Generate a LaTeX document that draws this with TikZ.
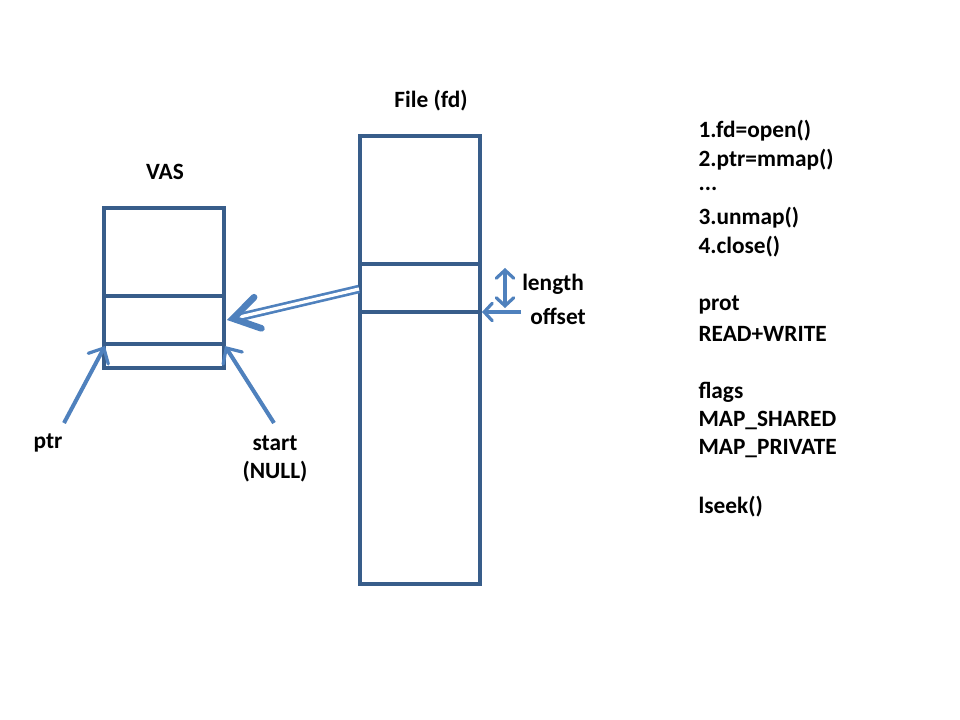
\documentclass[tikz,border=0pt]{standalone}
\usepackage{fontspec}
\setmainfont{Carlito}
\usetikzlibrary{arrows.meta,positioning}
\definecolor{boxblue}{RGB}{56,93,138}
\definecolor{arrblue}{RGB}{79,129,189}

\begin{document}
\begin{tikzpicture}[x=0.75pt,y=-0.75pt,
        box/.style={draw=boxblue,line width=2.3pt},
        lbl/.style={font=\bfseries\fontsize{17.5pt}{20pt}\selectfont,inner sep=0pt},
        note/.style={lbl,anchor=west},
        ptrarrow/.style={draw=arrblue,line width=3pt,-{Straight Barb[length=9pt,width=17pt,line width=2.4pt,line cap=round]}},
        maparrow/.style={draw=arrblue,double=white,double distance=2.4pt,line width=2pt,
          -{Straight Barb[length=19pt,width=24pt,line width=5pt,line cap=round]}},
        thick]
      \useasboundingbox[fill=white] (0,0) rectangle (960,720);
      % VAS
      \draw[box] (104,208) rectangle (224,368);
      \draw[box] (104,296) -- (224,296);
      \draw[box] (104,344) -- (224,344);
      \node [lbl] (vas) at (165,172) {VAS};
      % file
      \draw[box] (360,136) rectangle (480,584);
      \draw[box] (360,264) -- (480,264);
      \draw[box] (360,312) -- (480,312);
      \node [lbl] (file) at (431,101) {File (fd)};
      \coordinate (fsrc) at (359,289);
      \coordinate (vtip) at (227,320);
      \coordinate (vleft) at (105,346);
      \coordinate (vright) at (225,346);
      \coordinate (lentop) at (505,268);
      \coordinate (lenbot) at (505,308);
      \coordinate (offsrc) at (521,312);
      \coordinate (offtip) at (482,312);
      % labels
      \node [lbl] (ptr) at (48,443) {ptr};
      \node [lbl] (start) at (275,443) {start};
      \node [lbl] (null) at (275,472) {(NULL)};
      \node [lbl] (length) at (553,284) {length};
      \node [lbl] (offset) at (558,316) {offset};
      % arrows
      \draw[maparrow] (fsrc) -- (vtip);
      \draw[ptrarrow] (64,423) -- (vleft);
      \draw[ptrarrow] (274,423) -- (vright);
      \draw[ptrarrow,{Straight Barb[length=6pt,width=13pt,line width=2.4pt,line cap=round]}-{Straight Barb[length=6pt,width=13pt,line width=2.4pt,line cap=round]}] (lentop) -- (lenbot);
      \draw[ptrarrow,-{Straight Barb[length=6pt,width=13pt,line width=2.4pt,line cap=round]}] (offsrc) -- (offtip);
      % calls
      \node [note] (s1) at (698,131) {1.fd=open()};
      \node [note] (s2) at (698,160) {2.ptr=mmap()};
      \node [note] (s3) at (698,189) {...};
      \node [note] (s4) at (698,218) {3.unmap()};
      \node [note] (s5) at (698,247) {4.close()};
      \node [note] (p1) at (698,305) {prot};
      \node [note] (p2) at (698,334) {READ+WRITE};
      \node [note] (f1) at (698,392) {flags};
      \node [note] (f2) at (698,420) {MAP\_SHARED};
      \node [note] (f3) at (698,449) {MAP\_PRIVATE};
      \node [note] (ls) at (698,507) {lseek()};
    \end{tikzpicture}
\end{document}
